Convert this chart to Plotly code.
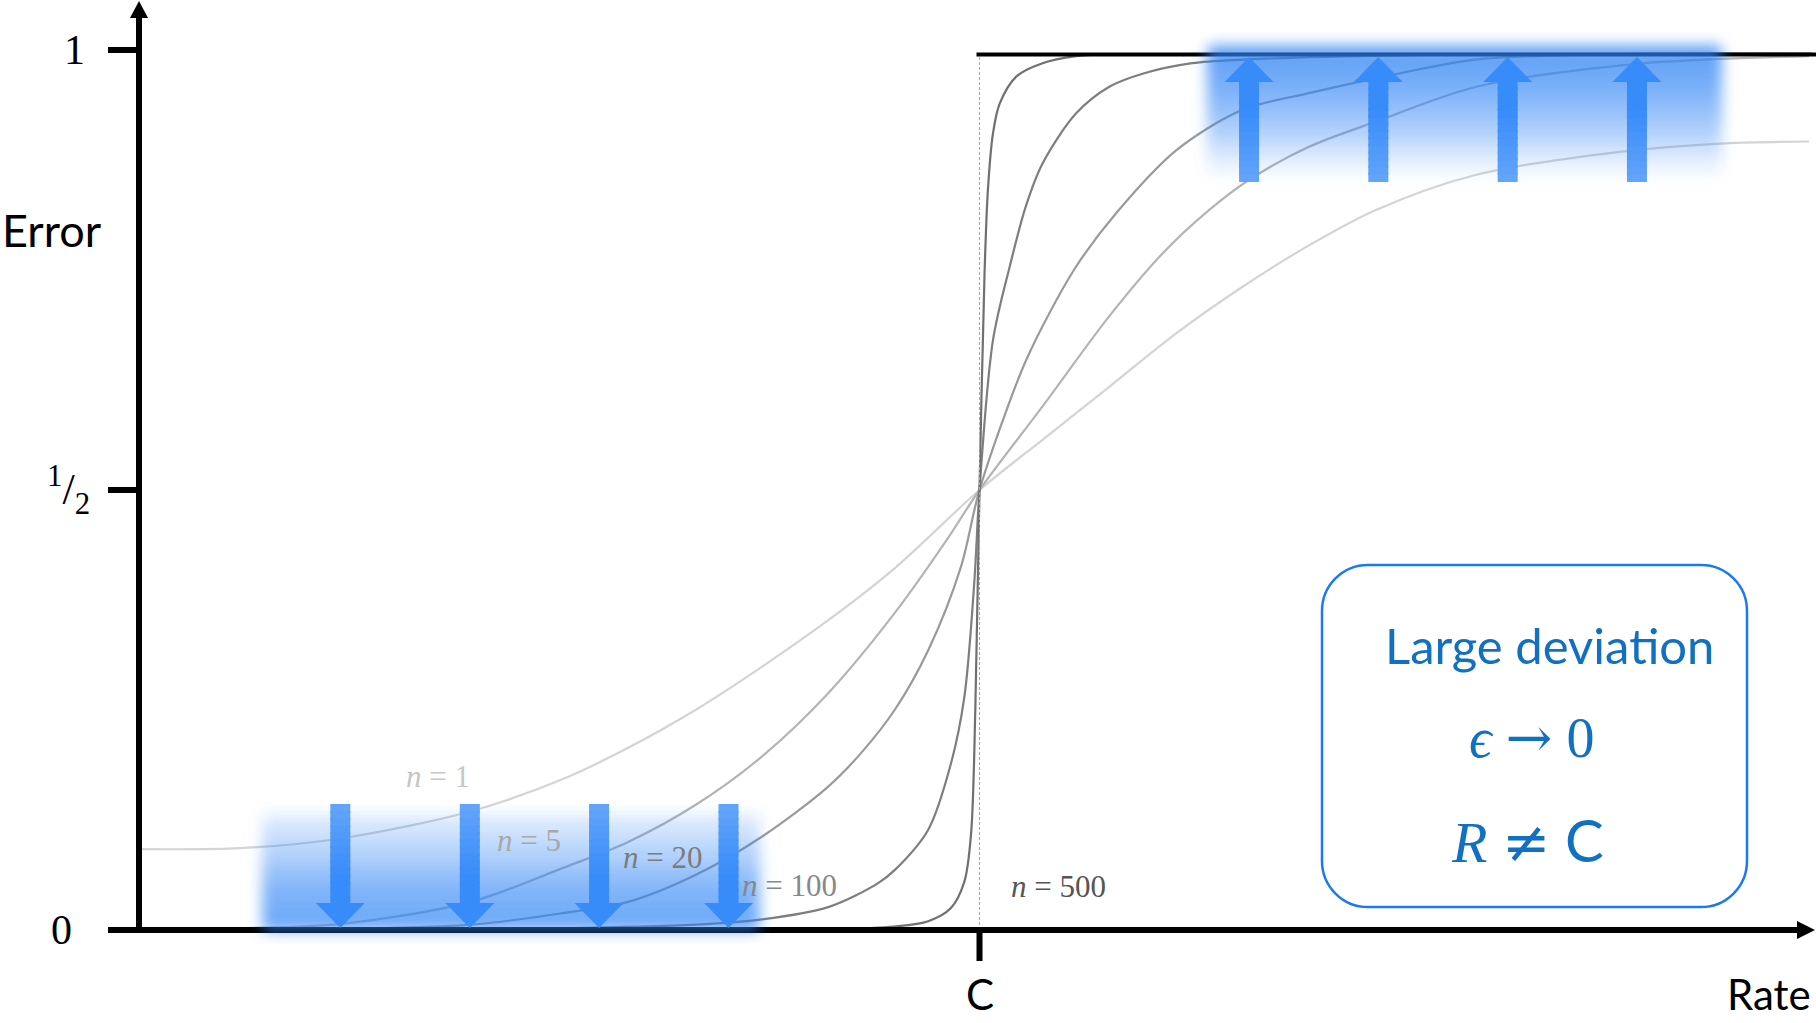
import base64
import plotly.graph_objects as go

# ---------------- data (x: rate, C = 1 ; y: error probability) ----------------
CURVE_LABELS = ["n = 1", "n = 5", "n = 20", "n = 100", "n = 500"]

X_N1 = [0.0, 0.12, 0.24, 0.395, 0.503, 0.582, 0.662, 0.741, 0.82, 0.899, 1.0,
        1.075, 1.154, 1.234, 1.313, 1.392, 1.471, 1.59, 1.759, 1.887, 1.987]
Y_N1 = [0.092, 0.093, 0.104, 0.135, 0.171, 0.207, 0.25, 0.299, 0.352, 0.411, 0.5,
        0.557, 0.617, 0.678, 0.731, 0.778, 0.818, 0.858, 0.884, 0.894, 0.896]

X_N5 = [0.0, 0.12, 0.241, 0.395, 0.503, 0.582, 0.662, 0.741, 0.82, 0.899, 0.958, 1.0,
        1.075, 1.154, 1.218, 1.273, 1.32, 1.392, 1.473, 1.59, 1.78, 1.987]
Y_N5 = [0.0, 0.002, 0.007, 0.032, 0.07, 0.1, 0.142, 0.197, 0.269, 0.36, 0.439, 0.5,
        0.595, 0.697, 0.769, 0.818, 0.852, 0.89, 0.919, 0.958, 0.984, 0.993]

X_N20 = [0.0, 0.241, 0.395, 0.503, 0.582, 0.662, 0.741, 0.82, 0.859, 0.899, 0.939, 0.978, 1.0,
         1.049, 1.075, 1.115, 1.162, 1.234, 1.313, 1.392, 1.473, 1.59, 1.75, 1.99]
Y_N20 = [0.0, 0.001, 0.006, 0.019, 0.032, 0.0625, 0.106, 0.163, 0.201, 0.25, 0.318, 0.413, 0.5,
         0.633, 0.686, 0.754, 0.814, 0.886, 0.932, 0.951, 0.968, 0.989, 0.995, 0.996]

X_N100 = [0.0, 0.503, 0.662, 0.741, 0.82, 0.879, 0.899, 0.939, 0.966, 0.982, 0.994, 1.0,
          1.016, 1.036, 1.055, 1.075, 1.115, 1.154, 1.194, 1.253, 1.313, 1.5, 1.99]
Y_N100 = [0.0, 0.002, 0.006, 0.012, 0.026, 0.053, 0.068, 0.114, 0.189, 0.265, 0.398, 0.5,
          0.67, 0.754, 0.822, 0.871, 0.928, 0.958, 0.973, 0.985, 0.989, 0.994, 0.996]

X_N500 = [0.0, 0.6, 0.82, 0.899, 0.939, 0.966, 0.982, 0.99, 0.995, 1.0,
          1.006, 1.01, 1.016, 1.024, 1.044, 1.075, 1.115, 1.146]
Y_N500 = [0.0, 0.0, 0.001, 0.004, 0.01, 0.025, 0.055, 0.11, 0.25, 0.5,
          0.746, 0.841, 0.905, 0.939, 0.97, 0.985, 0.993, 0.995]

CURVES_X = [X_N1, X_N5, X_N20, X_N100, X_N500]
CURVES_Y = [Y_N1, Y_N5, Y_N20, Y_N100, Y_N500]
CURVE_COLORS = ["#d4d4d4", "#b4b4b4", "#9a9a9a", "#7e7e7e", "#707070"]
LABEL_COLORS = ["#c6c6c6", "#a8a8a8", "#7c7c7c", "#888888", "#555555"]
LABEL_X = [0.356, 0.4635, 0.623, 0.7745, 1.094]
LABEL_Y = [0.174, 0.102, 0.082, 0.051, 0.049]

Y_TICKS = [0.0, 0.5, 1.0]
Y_TICK_TEXT = ["0", "<sup>1</sup>/<sub>2</sub>", "1"]
Y_TICK_LABEL_X = [-0.0917, -0.0834, -0.0763]
X_TICKS = [1.0]
X_TICK_TEXT = ["C"]
UPPER_LIMIT = 0.995

ARROW_DOWN_X = [0.2395, 0.3936, 0.5474, 0.7014]
ARROW_UP_X = [1.3207, 1.4745, 1.6284, 1.7822]

# ---------------- geometry helpers ----------------
W, H = 1816, 1023
X0_PX, C_PX = 139.0, 979.5
Y0_PX, Y1_PX = 930.0, 50.0
PX_X = C_PX - X0_PX
PX_Y = Y0_PX - Y1_PX
X_RANGE = [-X0_PX / PX_X, (W - X0_PX) / PX_X]
Y_RANGE = [-(H - Y0_PX) / PX_Y, Y0_PX / PX_Y]


def dx(px):
    return px / PX_X


def dy(px):
    return px / PX_Y


fig = go.Figure()

# curves
for xs, ys, col, name in zip(CURVES_X, CURVES_Y, CURVE_COLORS, CURVE_LABELS):
    fig.add_trace(go.Scatter(x=xs, y=ys, mode="lines", name=name,
                             line=dict(color=col, width=2.2, shape="spline", smoothing=0.9),
                             hoverinfo="skip"))

# dashed line at C
fig.add_trace(go.Scatter(x=[X_TICKS[0], X_TICKS[0]], y=[0, UPPER_LIMIT], mode="lines",
                         line=dict(color="#a8a8a8", width=1, dash="3px,2px"), hoverinfo="skip"))

# axes drawn as lines
AX = dict(color="black", width=6)
fig.add_trace(go.Scatter(x=[-dx(31), dx(1799 - X0_PX)], y=[0, 0], mode="lines", line=AX, hoverinfo="skip"))
fig.add_trace(go.Scatter(x=[0, 0], y=[0, dy(Y0_PX - 18)], mode="lines", line=AX, hoverinfo="skip"))
for yt in Y_TICKS[1:]:
    fig.add_trace(go.Scatter(x=[-dx(31), 0], y=[yt, yt], mode="lines", line=AX, hoverinfo="skip"))
for xt in X_TICKS:
    fig.add_trace(go.Scatter(x=[xt, xt], y=[0, -dy(31)], mode="lines", line=AX, hoverinfo="skip"))
# upper limit line
fig.add_trace(go.Scatter(x=[1.0 - dx(3), X_RANGE[1]], y=[UPPER_LIMIT, UPPER_LIMIT], mode="lines",
                         line=dict(color="black", width=4), hoverinfo="skip"))

shapes = []
# axis arrowheads
ytip, ybase = dy(Y0_PX - 1), dy(Y0_PX - 18)
shapes.append(dict(type="path", xref="x", yref="y", layer="above", line=dict(width=0), fillcolor="black",
                   path=f"M {-dx(9)},{ybase} L {dx(9)},{ybase} L 0,{ytip} Z"))
xb, xtip = dx(1797 - X0_PX), dx(1815 - X0_PX)
shapes.append(dict(type="path", xref="x", yref="y", layer="above", line=dict(width=0), fillcolor="black",
                   path=f"M {xb},{-dy(9)} L {xb},{dy(9)} L {xtip},0 Z"))

# blue arrows: shaft with a light-to-dark gradient (stacked segments), solid head
TAIL_RGB = (100, 165, 250)
HEAD_RGB = (56, 140, 250)
N_SEG = 14


def add_arrow(cx, y_tail, y_base, y_tip):
    sw, hw = dx(10), dx(24.5)
    for i in range(N_SEG):
        t0 = i / N_SEG
        t1 = (i + 1) / N_SEG
        ya = y_tail + (y_base - y_tail) * t0
        yb = y_tail + (y_base - y_tail) * min(1.0, t1 + 0.02)
        tm = (t0 + t1) / 2
        col = tuple(round(TAIL_RGB[j] + (HEAD_RGB[j] - TAIL_RGB[j]) * min(1.0, tm * 1.4)) for j in range(3))
        shapes.append(dict(type="rect", xref="x", yref="y", layer="above", line=dict(width=0),
                           fillcolor=f"rgb{col}", x0=cx - sw, x1=cx + sw, y0=min(ya, yb), y1=max(ya, yb)))
    shapes.append(dict(type="path", xref="x", yref="y", layer="above", line=dict(width=0),
                       fillcolor=f"rgb{HEAD_RGB}",
                       path=f"M {cx - hw},{y_base} L {cx + hw},{y_base} L {cx},{y_tip} Z"))


for cx in ARROW_DOWN_X:
    add_arrow(cx, dy(Y0_PX - 804), dy(Y0_PX - 903), dy(Y0_PX - 928))
for cx in ARROW_UP_X:
    add_arrow(cx, dy(Y0_PX - 182), dy(Y0_PX - 82), dy(Y0_PX - 57))

# rounded legend box
bx0, bx1 = dx(1322 - X0_PX), dx(1747 - X0_PX)
byt, byb = dy(Y0_PX - 565), dy(Y0_PX - 907)
rx, ry = dx(46), dy(46)
k = 0.5523
box = (f"M {bx0 + rx},{byt} L {bx1 - rx},{byt} "
       f"C {bx1 - rx + k * rx},{byt} {bx1},{byt - ry + k * ry} {bx1},{byt - ry} "
       f"L {bx1},{byb + ry} "
       f"C {bx1},{byb + ry - k * ry} {bx1 - rx + k * rx},{byb} {bx1 - rx},{byb} "
       f"L {bx0 + rx},{byb} "
       f"C {bx0 + rx - k * rx},{byb} {bx0},{byb + ry - k * ry} {bx0},{byb + ry} "
       f"L {bx0},{byt - ry} "
       f"C {bx0},{byt - ry + k * ry} {bx0 + rx - k * rx},{byt} {bx0 + rx},{byt} Z")
shapes.append(dict(type="path", xref="x", yref="y", layer="above", path=box,
                   line=dict(color="rgb(28,122,240)", width=2.5), fillcolor="rgba(0,0,0,0)"))


# soft blue glows (svg images with gradient and blur)
def glow_uri(w, h, pad, blur, stops):
    Wd, Hd = w + 2 * pad, h + 2 * pad
    st = "".join(f'<stop offset="{o}" stop-color="rgb(45,130,245)" stop-opacity="{a}"/>' for o, a in stops)
    svg = (f'<svg xmlns="http://www.w3.org/2000/svg" width="{Wd:.0f}" height="{Hd:.0f}" '
           f'viewBox="0 0 {Wd:.1f} {Hd:.1f}" preserveAspectRatio="none">'
           f'<defs><linearGradient id="g" x1="0" y1="0" x2="0" y2="1">{st}</linearGradient>'
           f'<filter id="f" x="-30%" y="-30%" width="160%" height="160%">'
           f'<feGaussianBlur stdDeviation="{blur}"/></filter></defs>'
           f'<rect x="{pad}" y="{pad}" width="{w:.1f}" height="{h:.1f}" rx="6" fill="url(#g)" filter="url(#f)"/></svg>')
    return "data:image/svg+xml;base64," + base64.b64encode(svg.encode()).decode()


images = []
PAD = 30
GLOWS = [
    (dx(262 - X0_PX), dx(760 - X0_PX), dy(Y0_PX - 931), dy(Y0_PX - 813),
     [(0, 0.12), (0.375, 0.38), (0.65, 0.6), (1, 0.70)]),
    (dx(1207 - X0_PX), dx(1722 - X0_PX), dy(Y0_PX - 175), dy(Y0_PX - 45),
     [(0, 0.74), (0.17, 0.72), (0.42, 0.57), (0.68, 0.36), (0.88, 0.14), (1, 0.05)]),
]
for gx0, gx1, gy0, gy1, stops in GLOWS:
    wpx, hpx = (gx1 - gx0) * PX_X, (gy1 - gy0) * PX_Y
    images.append(dict(source=glow_uri(wpx, hpx, PAD, 7, stops), xref="x", yref="y",
                       x=gx0 - dx(PAD), y=gy1 + dy(PAD), sizex=dx(wpx + 2 * PAD), sizey=dy(hpx + 2 * PAD),
                       xanchor="left", yanchor="top", sizing="stretch", layer="above", opacity=1))

annotations = []
SERIF = "Liberation Serif, DejaVu Serif, serif"
SANS = "Lato, Open Sans, sans-serif"
for lx, ly, txt, col in zip(LABEL_X, LABEL_Y, CURVE_LABELS, LABEL_COLORS):
    t = "<i>n</i>" + txt[1:]
    annotations.append(dict(x=lx, y=ly, xref="x", yref="y", text=t, showarrow=False,
                            font=dict(family=SERIF, size=31, color=col), xanchor="center", yanchor="middle"))
for yv, txt, lx in zip(Y_TICKS, Y_TICK_TEXT, Y_TICK_LABEL_X):
    annotations.append(dict(x=lx, y=yv, xref="x", yref="y", text=txt, showarrow=False,
                            font=dict(family=SERIF, size=42 if "sup" not in txt else 44, color="black"),
                            xanchor="center", yanchor="middle"))
for xv, txt in zip(X_TICKS, X_TICK_TEXT):
    annotations.append(dict(x=xv, y=-dy(64), xref="x", yref="y", text=txt, showarrow=False,
                            font=dict(family=SANS, size=42, color="black"), xanchor="center", yanchor="middle"))
annotations.append(dict(x=-dx(87), y=dy(Y0_PX - 230), xref="x", yref="y", text="Error", showarrow=False,
                        font=dict(family=SANS, size=45, color="black"), xanchor="center", yanchor="middle"))
annotations.append(dict(x=dx(1769 - X0_PX), y=-dy(64), xref="x", yref="y", text="Rate", showarrow=False,
                        font=dict(family=SANS, size=42, color="black"), xanchor="center", yanchor="middle"))

BLUE_TXT = "#1270c0"
WIDE = "DejaVu Serif, serif"
annotations.append(dict(x=dx(1549 - X0_PX), y=dy(Y0_PX - 645), xref="x", yref="y", text="Large deviation",
                        showarrow=False, font=dict(family=SANS, size=49, color=BLUE_TXT),
                        xanchor="center", yanchor="middle"))
annotations.append(dict(x=dx(1531 - X0_PX), y=dy(Y0_PX - 737), xref="x", yref="y",
                        text=f'<i>ϵ</i> <span style="font-family:{WIDE}">→</span> 0',
                        showarrow=False, font=dict(family=SERIF, size=56, color=BLUE_TXT),
                        xanchor="center", yanchor="middle"))
annotations.append(dict(x=dx(1527 - X0_PX), y=dy(Y0_PX - 840), xref="x", yref="y",
                        text=(f'<i>R</i> <span style="font-family:{WIDE}">≠</span> '
                              '<span style="font-family:Lato, Open Sans, sans-serif">C</span>'),
                        showarrow=False, font=dict(family=SERIF, size=58, color=BLUE_TXT),
                        xanchor="center", yanchor="middle"))

fig.update_layout(
    width=W, height=H, margin=dict(l=0, r=0, t=0, b=0),
    paper_bgcolor="white", plot_bgcolor="white", showlegend=False,
    xaxis=dict(visible=False, range=X_RANGE, fixedrange=True),
    yaxis=dict(visible=False, range=Y_RANGE, fixedrange=True),
    shapes=shapes, images=images, annotations=annotations,
)

fig.write_html("out.html", config={"displayModeBar": False},
               post_script="document.body.style.margin='0px';document.body.style.overflow='hidden';")
